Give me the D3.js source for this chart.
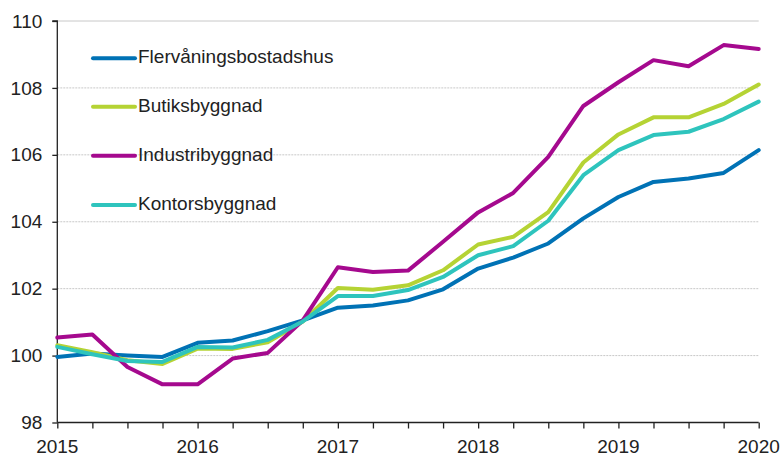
<!DOCTYPE html>
<html><head><meta charset="utf-8">
<script src="https://cdn.jsdelivr.net/npm/d3@7"></script>
<style>body{margin:0;background:#fff}svg{display:block}text{font-family:"Liberation Sans",Arial,sans-serif}</style>
</head><body><svg id="c" width="783" height="458"></svg>
<script>
const quarters = d3.range(0, 21).map(i => 2015 + i / 4);
const yearLabels = ["2015","2016","2017","2018","2019","2020"];
const yTicks = [98,100,102,104,106,108,110];
const seriesNames = ["Flervåningsbostadshus","Butiksbyggnad","Industribyggnad","Kontorsbyggnad"];
const flervaningsbostadshus = [99.96,100.06,100.0,99.96,100.38,100.45,100.73,101.05,101.43,101.5,101.65,101.98,102.6,102.93,103.35,104.1,104.74,105.19,105.29,105.46,106.14];
const butiksbyggnad = [100.31,100.1,99.86,99.75,100.21,100.2,100.4,101.02,102.02,101.97,102.1,102.55,103.32,103.55,104.29,105.77,106.61,107.12,107.12,107.52,108.1];
const industribyggnad = [100.54,100.63,99.66,99.14,99.14,99.91,100.08,101.05,102.64,102.5,102.54,103.4,104.28,104.86,105.94,107.46,108.17,108.83,108.65,109.28,109.16];
const kontorsbyggnad = [100.26,100.04,99.84,99.81,100.26,100.24,100.47,101.02,101.78,101.78,101.96,102.35,103.0,103.27,104.03,105.39,106.14,106.59,106.69,107.07,107.59];
const colors = ["#0072b5","#b5d334","#a5098e","#2ec4bd"];
const allSeries = [flervaningsbostadshus,butiksbyggnad,industribyggnad,kontorsbyggnad];

const svg = d3.select("#c");
const x = d3.scaleLinear().domain([2015,2020]).range([57.3,758.7]);
const y = d3.scaleLinear().domain([98,110]).range([422.5,21]);

// gridlines
svg.append("g").selectAll("line").data(yTicks.filter(d=>d>98)).join("line")
  .attr("x1",x(2015)).attr("x2",x(2020)).attr("y1",d=>y(d)).attr("y2",d=>y(d))
  .attr("stroke","#c8c8c8").attr("stroke-width",1)
  .attr("stroke-dasharray",d=>d===110?null:"2,1");

// y axis
const ya = svg.append("g").attr("transform",`translate(${x(2015)},0)`)
  .call(d3.axisLeft(y).tickValues(yTicks).tickSize(5).tickPadding(10).tickFormat(d3.format("d")));
ya.select(".domain").attr("stroke","#222").attr("stroke-width",1.3).attr("d",`M-5,${y(110)}H0V${y(98)}`);
ya.selectAll(".tick line").attr("stroke","#222").attr("stroke-width",1.3);
ya.selectAll("text").attr("font-size",19).attr("fill","#222").attr("font-family","Liberation Sans, Arial, sans-serif");

// x axis
const xa = svg.append("g").attr("transform",`translate(0,${y(98)})`)
  .call(d3.axisBottom(x).tickValues(quarters).tickSize(6).tickFormat(""));
xa.select(".domain").attr("stroke","#222").attr("stroke-width",1.3).attr("d",`M${x(2015)},0H${x(2020)}`);
xa.selectAll(".tick line").attr("stroke","#222").attr("stroke-width",1.3);
svg.append("g").selectAll("text").data(yearLabels).join("text")
  .attr("x",d=>x(+d)).attr("y",453).attr("text-anchor","middle")
  .attr("font-size",19).attr("fill","#222").text(d=>d);

// lines
const line = d3.line().x((d,i)=>x(quarters[i])).y(d=>y(d));
svg.append("g").selectAll("path").data(allSeries).join("path")
  .attr("d",line).attr("fill","none").attr("stroke",(d,i)=>colors[i])
  .attr("stroke-width",4).attr("stroke-linejoin","round").attr("stroke-linecap","round");

// legend
const legY = [58.3,106.7,155.7,205];
const lg = svg.append("g").selectAll("g").data(seriesNames).join("g")
  .attr("transform",(d,i)=>`translate(0,${legY[i]})`);
lg.append("line").attr("x1",93).attr("x2",135).attr("stroke",(d,i)=>colors[i])
  .attr("stroke-width",4).attr("stroke-linecap","round");
lg.append("text").attr("x",138).attr("y",5).attr("font-size",19).attr("fill","#222").text(d=>d);
</script></body></html>
